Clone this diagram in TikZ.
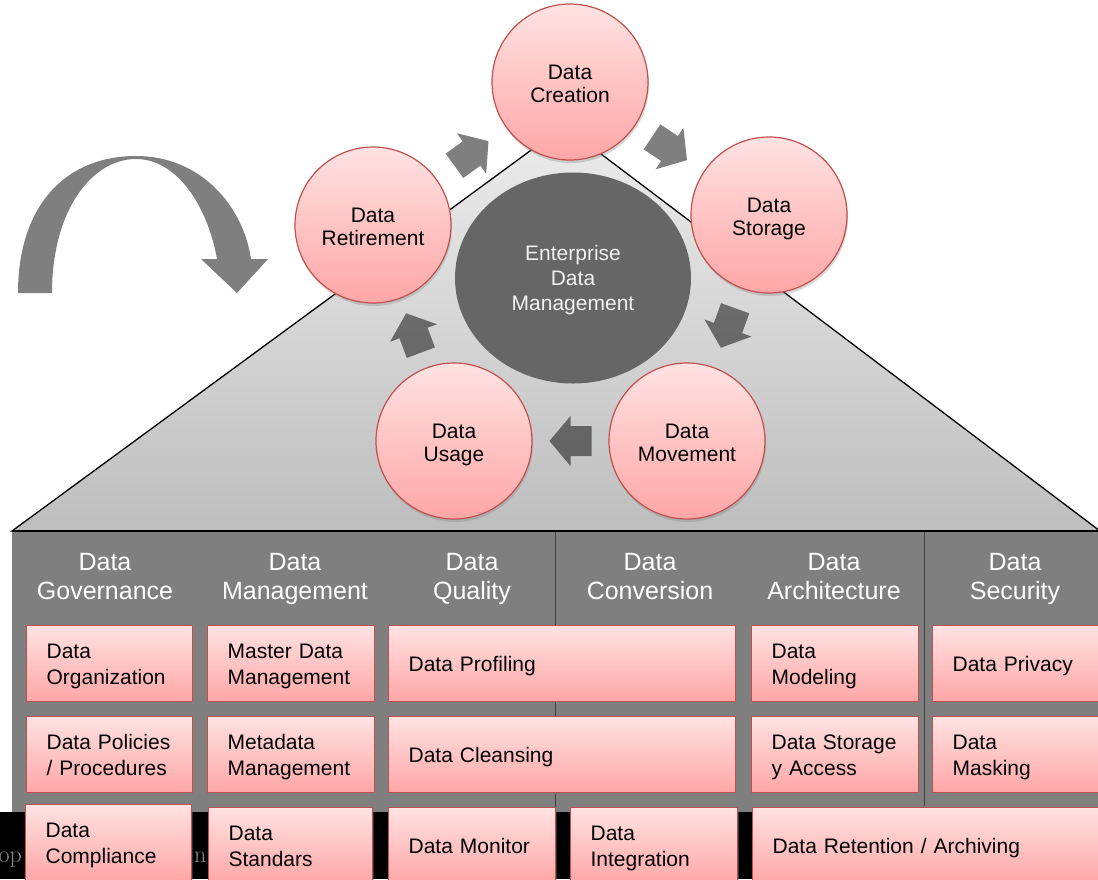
\documentclass[tikz,border=0pt]{standalone}
\usepackage{fontspec}
\setmainfont{Liberation Sans}
\newfontfamily\footfont{Latin Modern Roman}
\usetikzlibrary{shapes.geometric, shadows, calc}

\definecolor{boxred}{HTML}{C0504D}
\definecolor{pinktop}{HTML}{FFE2E2}
\definecolor{pinkbot}{HTML}{FFA6A6}
\definecolor{panelgray}{HTML}{7F7F7F}
\definecolor{hubgray}{HTML}{666666}
\definecolor{rooftop}{HTML}{ECECEC}
\definecolor{roofbot}{HTML}{BEBEBE}
\definecolor{footgray}{HTML}{8A8A8A}

\newcommand{\boxfont}{\fontsize{21}{26}\selectfont}
\newcommand{\headfont}{\fontsize{25}{29.5}\selectfont}
\newcommand{\circfont}{\fontsize{21}{23}\selectfont}

\tikzset{
  % fixed first-line height and last-line depth, so descenders do not move the text
  lines/.style 2 args={execute at begin node={\rule{0pt}{#1}}, execute at end node={\rule[-#2]{0pt}{#2}}},
  stage/.style={circle, draw=boxred, line width=1.2pt, top color=pinktop, bottom color=pinkbot,
    minimum size=156pt, inner sep=0pt, align=center, text width=130pt, font=\circfont, lines={22.5pt}{5pt},
    drop shadow={shadow xshift=1pt, shadow yshift=-3pt, opacity=0.3}},
  hub/.style={ellipse, fill=hubgray, minimum width=236pt, minimum height=211pt, inner sep=0pt,
    align=center, text width=150pt, text=white!94!black, font=\fontsize{21}{25}\selectfont, lines={19.2pt}{5pt}},
  colhead/.style={align=center, text width=150pt, text=white, font=\headfont, lines={23.9pt}{6pt}},
  taskbox/.style={draw=boxred, line width=1.2pt, top color=pinktop, bottom color=pinkbot,
    anchor=north west, inner xsep=20pt, inner ysep=0pt, minimum height=76pt, align=left,
    font=\boxfont, lines={20pt}{5pt},
    drop shadow={shadow xshift=1.5pt, shadow yshift=-2.5pt, opacity=0.35}},
  sepline/.style={draw=black!75, line width=0.8pt},
  flow arrow/.pic={\fill[black, fill opacity=0.5] (-21,-15) -- (0,-15) -- (0,-25) -- (21,0)
    -- (0,25) -- (0,15) -- (-21,15) -- cycle;},
}

% block arrow half way between two stages, turned towards the second
\newcommand{\flowstep}[2]{%
  \path let \p1=(#1.center), \p2=(#2.center), \n1={atan2(\y2-\y1,\x2-\x1)} in
    ($(#1.center)!0.5!(#2.center)$) pic[rotate=\n1] {flow arrow};}

\begin{document}
\begin{tikzpicture}[x=1pt, y=-1pt]
  \useasboundingbox (0,0) rectangle (1098,879);
  \clip (0,0) rectangle (1098,879);

  % roof and panel
  \draw[line width=1.3pt, top color=rooftop, bottom color=roofbot] (12,531) -- (564,126) -- (1100,531) -- cycle;
  \fill[panelgray] (12,531) rectangle (1100,812);
  \draw[line width=2pt] (12,531) -- (1100,531);
  \draw[sepline] (555,532) -- (555,812);
  \draw[sepline] (924,532) -- (924,806);
  \fill[black] (0,812) rectangle (1100,879);
  \node[text=footgray, font=\footfont\fontsize{24}{24}\selectfont, anchor=base east, inner sep=0pt] (footl) at (22,862) {op};
  \node[text=footgray, font=\footfont\fontsize{24}{24}\selectfont, anchor=base west, inner sep=0pt] (footr) at (194,862) {n};

  % column heads
  \node[colhead] (hgov) at (105,576) {Data\\Governance};
  \node[colhead] (hman) at (295,576) {Data\\Management};
  \node[colhead] (hqual) at (472,576) {Data\\Quality};
  \node[colhead] (hconv) at (650,576) {Data\\Conversion};
  \node[colhead] (harch) at (834,576) {Data\\Architecture};
  \node[colhead] (hsec) at (1015,576) {Data\\Security};

  % tasks
  \node[taskbox, text width=126pt] (org) at (26,625) {Data\\Organization};
  \node[taskbox, text width=127pt] (mdm) at (207,625) {Master Data\\Management};
  \node[taskbox, text width=307pt] (prof) at (388,625) {Data Profiling};
  \node[taskbox, text width=127pt] (model) at (751,625) {Data\\Modeling};
  \node[taskbox, text width=140pt] (priv) at (932,625) {Data Privacy};

  \node[taskbox, text width=126pt] (policy) at (26,716) {Data Policies\\/ Procedures};
  \node[taskbox, text width=127pt] (meta) at (207,716) {Metadata\\Management};
  \node[taskbox, text width=307pt] (cleanse) at (388,716) {Data Cleansing};
  \node[taskbox, text width=127pt] (access) at (751,716) {Data Storage\\y Access};
  \node[taskbox, text width=140pt] (mask) at (932,716) {Data\\Masking};

  \node[taskbox, text width=126pt] (comply) at (25,804) {Data\\Compliance};
  \node[taskbox, text width=124pt] (standard) at (208,807) {Data\\Standars};
  \node[taskbox, text width=127pt] (monitor) at (388,807) {Data Monitor};
  \node[taskbox, text width=127pt] (integr) at (570,807) {Data\\Integration};
  \node[taskbox, text width=320pt] (retain) at (752,807) {Data Retention / Archiving};

  % life cycle
  \node[hub] (edm) at (573,278) {Enterprise\\Data\\Management};
  \node[stage] (create) at (570,82) {Data\\Creation};
  \node[stage] (store) at (769,215) {Data\\Storage};
  \node[stage] (move) at (687,441) {Data\\Movement};
  \node[stage] (usage) at (454,441) {Data\\Usage};
  \node[stage] (retire) at (373,225) {Data\\Retirement};

  \flowstep{retire}{create}
  \flowstep{create}{store}
  \flowstep{store}{move}
  \flowstep{move}{usage}
  \flowstep{usage}{retire}

  % turn arrow
  \fill[panelgray] (18,293) .. controls (18,205) and (66,156) .. (136,156)
    .. controls (200,156) and (243,205) .. (251,259) -- (268,259) -- (237,293) -- (201,259) -- (217,259)
    .. controls (208,208) and (178,159) .. (136,159) .. controls (92,159) and (52,210) .. (52,293) -- cycle;
\end{tikzpicture}
\end{document}
